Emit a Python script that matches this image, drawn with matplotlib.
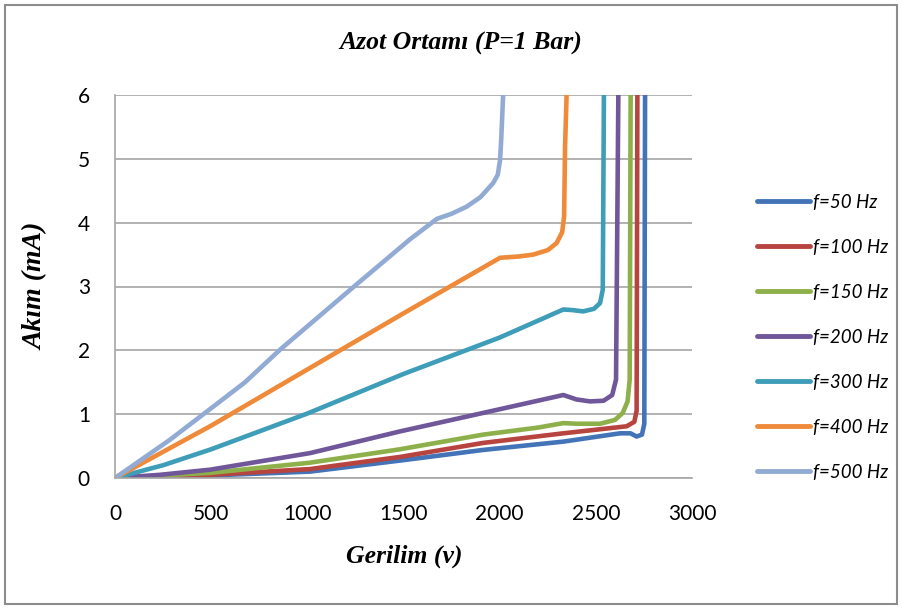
import matplotlib
matplotlib.use("Agg")
import matplotlib.pyplot as plt
from matplotlib.patches import Rectangle

# Gerilim (V) / Akım (mA) measurements for each frequency
v_50 = [0, 494, 1014, 1500, 1915, 2331, 2626, 2680, 2712, 2740, 2752, 2756]
i_50 = [0, 0.04, 0.10, 0.28, 0.44, 0.57, 0.70, 0.70, 0.65, 0.68, 0.85, 6.0]

v_100 = [0, 494, 1014, 1482, 1915, 2331, 2660, 2700, 2712, 2716]
i_100 = [0, 0.05, 0.14, 0.33, 0.55, 0.70, 0.81, 0.88, 1.05, 6.0]

v_150 = [0, 494, 1014, 1482, 1915, 2200, 2331, 2400, 2522, 2600, 2640, 2665, 2676, 2681]
i_150 = [0, 0.08, 0.24, 0.45, 0.68, 0.79, 0.86, 0.85, 0.85, 0.91, 1.02, 1.20, 1.54, 6.0]

v_200 = [0, 234, 494, 1014, 1482, 1915, 2331, 2400, 2470, 2540, 2585, 2605, 2617]
i_200 = [0, 0.05, 0.13, 0.39, 0.73, 1.02, 1.30, 1.23, 1.20, 1.21, 1.30, 1.54, 6.0]

v_300 = [0, 250, 500, 1000, 1500, 2000, 2331, 2380, 2434, 2490, 2522, 2536, 2542]
i_300 = [0, 0.20, 0.45, 1.01, 1.63, 2.20, 2.64, 2.63, 2.61, 2.65, 2.74, 2.95, 6.0]

v_400 = [0, 500, 1000, 1500, 2002, 2100, 2175, 2250, 2296, 2325, 2335, 2340, 2348]
i_400 = [0, 0.82, 1.70, 2.58, 3.45, 3.47, 3.50, 3.57, 3.68, 3.85, 4.10, 5.19, 6.0]

v_500 = [0, 286, 477, 676, 858, 1239, 1534, 1674, 1750, 1828, 1900, 1966, 1990, 2002, 2008, 2018]
i_500 = [0, 0.60, 1.04, 1.50, 2.01, 2.99, 3.74, 4.06, 4.14, 4.25, 4.40, 4.62, 4.75, 4.98, 5.30, 6.0]

labels = ["f=50 Hz", "f=100 Hz", "f=150 Hz", "f=200 Hz", "f=300 Hz", "f=400 Hz", "f=500 Hz"]
colors = ["#4374B7", "#B8443F", "#8EB04A", "#70579A", "#3E9DB8", "#EE8A3A", "#92ABD4"]
series = [(v_50, i_50), (v_100, i_100), (v_150, i_150), (v_200, i_200),
          (v_300, i_300), (v_400, i_400), (v_500, i_500)]

x_ticks = [0, 500, 1000, 1500, 2000, 2500, 3000]
y_ticks = [0, 1, 2, 3, 4, 5, 6]

W, H = 902, 608
fig = plt.figure(figsize=(W / 100, H / 100), dpi=100)
ax = fig.add_axes([115 / W, 1 - 478 / H, (692 - 115) / W, (478 - 95) / H])

for (v, i), lab, c in zip(series, labels, colors):
    ax.plot(v, i, color=c, lw=3.3, label=lab, solid_joinstyle="round",
            solid_capstyle="round")

ax.set_xlim(0, 3000)
ax.set_ylim(0, 6)
ax.set_xticks(x_ticks)
ax.set_yticks(y_ticks)
ax.yaxis.grid(True, color="#A6A6A6", lw=1.2)
ax.set_axisbelow(True)
for s in ("top", "right"):
    ax.spines[s].set_visible(False)
for s in ("left", "bottom"):
    ax.spines[s].set_color("#A6A6A6")
    ax.spines[s].set_linewidth(1.2)
ax.tick_params(length=0, labelsize=15, colors="#000000")
ax.tick_params(axis="y", pad=18)
ax.tick_params(axis="x", pad=19)
for t in ax.get_xticklabels() + ax.get_yticklabels():
    t.set_fontfamily("Lato")

serif = dict(family="Liberation Serif", weight="bold", style="italic")
fig.text(461 / W, 1 - 43 / H, "Azot Ortamı (P=1 Bar)", ha="center", va="center",
         fontsize=18.5, **serif)
fig.text(404 / W, 1 - 556 / H, "Gerilim (v)", ha="center", va="center",
         fontsize=18.5, **serif)
fig.text(36 / W, 1 - 286 / H, "Akım (mA)", ha="center", va="center",
         rotation=90, fontsize=20, **serif)

leg = fig.legend(loc="upper left", bbox_to_anchor=(740.5 / W, 1 - 177 / H),
                 frameon=False, handlelength=2.83, handletextpad=0.12,
                 labelspacing=1.49, prop=dict(family="Lato", style="italic", size=13.5))
for ln in leg.get_lines():
    ln.set_linewidth(3.5)
    ln.set_solid_capstyle("round")

fig.add_artist(Rectangle((5 / W, 4 / H), (897 - 5) / W, (603 - 4) / H,
                         transform=fig.transFigure, fill=False,
                         edgecolor="#8C8C8C", lw=1.5))

fig.savefig("out.png", dpi=100)
